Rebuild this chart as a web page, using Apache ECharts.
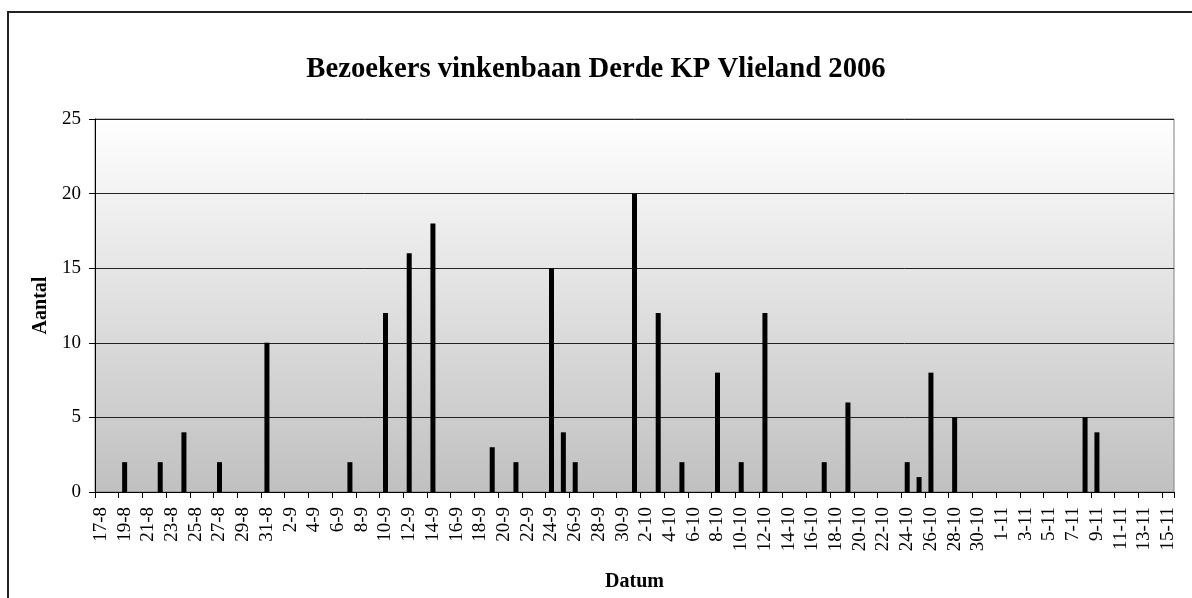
<!DOCTYPE html>
<html>
<head>
<meta charset="utf-8">
<style>
  html, body { margin: 0; padding: 0; background: #ffffff; }
  #chart { width: 1192px; height: 598px; }
</style>
<script src="https://cdn.jsdelivr.net/npm/echarts@6/dist/echarts.min.js"></script>
</head>
<body>
<div id="chart"></div>
<script>
// Days shown on the category axis (one category per day)
var days = [
  '17-8','18-8','19-8','20-8','21-8','22-8','23-8','24-8','25-8','26-8','27-8','28-8','29-8','30-8','31-8',
  '1-9','2-9','3-9','4-9','5-9','6-9','7-9','8-9','9-9','10-9','11-9','12-9','13-9','14-9','15-9',
  '16-9','17-9','18-9','19-9','20-9','21-9','22-9','23-9','24-9','25-9','26-9','27-9','28-9','29-9','30-9',
  '1-10','2-10','3-10','4-10','5-10','6-10','7-10','8-10','9-10','10-10','11-10','12-10','13-10','14-10','15-10',
  '16-10','17-10','18-10','19-10','20-10','21-10','22-10','23-10','24-10','25-10','26-10','27-10','28-10','29-10','30-10','31-10',
  '1-11','2-11','3-11','4-11','5-11','6-11','7-11','8-11','9-11','10-11','11-11','12-11','13-11','14-11','15-11'
];

// Days with visitors and the number of visitors
var visitDays = [
  '19-8','22-8','24-8','27-8','31-8','7-9','10-9','12-9','14-9','19-9','21-9','24-9','25-9','26-9',
  '1-10','3-10','5-10','8-10','10-10','12-10','17-10','19-10','24-10','25-10','26-10','28-10','8-11','9-11'
];
var visitCounts = [
  2, 2, 4, 2, 10, 2, 12, 16, 18, 3, 2, 15, 4, 2,
  20, 12, 2, 8, 2, 12, 2, 6, 2, 1, 8, 5, 5, 4
];

var yTicks = { min: 0, max: 25, interval: 5 };

var lookup = {};
visitDays.forEach(function (d, i) { lookup[d] = visitCounts[i]; });
var seriesData = days.map(function (d) { return lookup.hasOwnProperty(d) ? lookup[d] : '-'; });

var serif = "'Liberation Serif', 'Times New Roman', serif";

var chart = echarts.init(document.getElementById('chart'), null, { renderer: 'canvas' });
chart.setOption({
  animation: false,
  backgroundColor: '#ffffff',
  title: {
    text: 'Bezoekers vinkenbaan Derde KP Vlieland 2006',
    left: 'center',
    top: 50,
    textStyle: { fontFamily: serif, fontSize: 28.7, fontWeight: 'bold', color: '#000000' }
  },
  graphic: [{
    type: 'rect',
    shape: { x: 8, y: 12, width: 1400, height: 800 },
    style: { fill: 'none', stroke: '#222222', lineWidth: 2 },
    silent: true
  }],
  grid: {
    left: 95, top: 119, right: 18, bottom: 106,
    show: true,
    borderColor: '#808080',
    borderWidth: 1,
    backgroundColor: new echarts.graphic.LinearGradient(0, 0, 0, 1, [
      { offset: 0, color: '#ffffff' },
      { offset: 1, color: '#c0c0c0' }
    ])
  },
  xAxis: {
    type: 'category',
    data: days,
    boundaryGap: true,
    name: 'Datum',
    nameLocation: 'middle',
    nameGap: 80,
    nameTextStyle: { fontFamily: serif, fontSize: 20, fontWeight: 'bold', color: '#000000' },
    axisLine: { lineStyle: { color: '#000000', width: 1 } },
    axisTick: { show: true, interval: 1, length: 6, lineStyle: { color: '#000000' } },
    axisLabel: {
      interval: 1,
      rotate: 90,
      margin: 15,
      fontFamily: serif,
      fontSize: 19,
      color: '#000000'
    },
    splitLine: { show: false }
  },
  yAxis: {
    type: 'value',
    min: yTicks.min,
    max: yTicks.max,
    interval: yTicks.interval,
    name: 'Aantal',
    nameLocation: 'middle',
    nameGap: 44,
    nameRotate: 90,
    nameTextStyle: { fontFamily: serif, fontSize: 20, fontWeight: 'bold', color: '#000000' },
    axisLine: { show: true, lineStyle: { color: '#000000', width: 1 } },
    axisTick: { show: true, length: 6, lineStyle: { color: '#000000' } },
    axisLabel: { margin: 14, fontFamily: serif, fontSize: 19, color: '#000000' },
    splitLine: { show: true, lineStyle: { color: '#222222', width: 1 } }
  },
  series: [{
    type: 'bar',
    data: seriesData,
    barWidth: 5,
    itemStyle: { color: '#000000' }
  }]
});
</script>
</body>
</html>
